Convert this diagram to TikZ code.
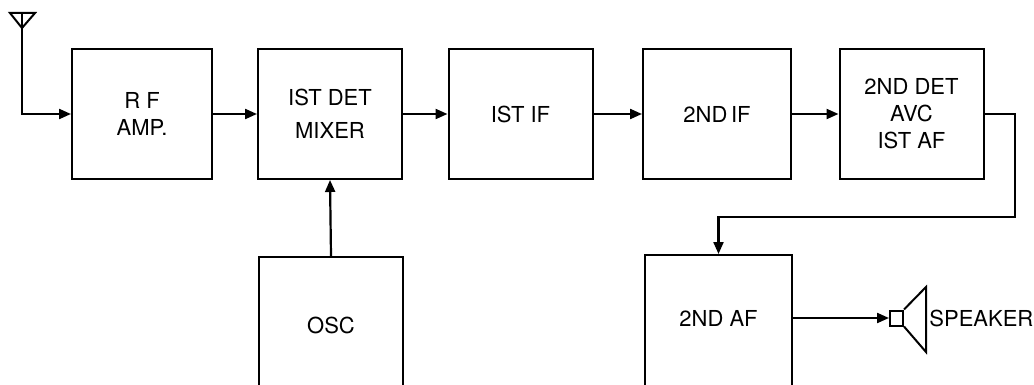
\documentclass[tikz,border=0pt]{standalone}
\usepackage{fontspec}
\setmainfont{TeX Gyre Heros}
\usetikzlibrary{arrows.meta}
\tikzset{
  lbl/.style={font=\fontsize{11}{13.5}\selectfont},
  blk/.style={draw, line width=1pt, minimum width=72pt, minimum height=65pt, inner sep=0pt, align=center, lbl},
  sig/.style={line width=1.1pt, -{Triangle[length=6pt,width=5pt]}}
}
\begin{document}
\begin{tikzpicture}[x=0.5pt, y=-0.5pt]

\clip (0,0) rectangle (1034,385);

\node at (142,114) [blk, minimum width=70pt] (rf) {R F\\AMP.};
\node at (330,114) [blk] (mix) {IST DET\\[3pt]MIXER};
\node at (520.5,114) [blk] (if1) {IST IF};
\node at (717,114) [blk, minimum width=74pt] (if2) {2ND\,IF};
\node at (911.5,114) [blk] (det) {2ND DET\\AVC\\IST AF};
\node at (331,325) [blk, minimum height=68pt] (osc) {OSC};
\node at (718.5,325) [blk, minimum width=73.5pt, minimum height=70pt, label={[yshift=3.5pt, lbl]center:2ND AF}] (af2) {};

\coordinate (ant) at (22,13);
\coordinate (turn) at (1015,217);

\draw [line width=1pt] (10,13) -- (35,13) -- (22,28) -- cycle;
\draw [sig] (ant) |- (rf.west);
\draw [sig] (rf.east) -- (mix.west);
\draw [sig] (mix.east) -- (if1.west);
\draw [sig] (if1.east) -- (if2.west);
\draw [sig] (if2.east) -- (det.west);
\draw [sig] (osc.north) -- (mix.south);
\draw [sig] (det.east) -| (turn) -| (af2.north);

\node at (896.5,318) [draw, line width=1pt, minimum width=6.5pt, minimum height=7.5pt, inner sep=0pt] (spk) {};
\draw [line width=1pt] (spk.north east) -- (926,287) -- (926,352) -- (spk.south east);
\draw [sig] (af2.east |- spk) -- (spk.west);
\node at (929,318) [anchor=west, inner sep=0pt, lbl] (spktxt) {SPEAKER};

\end{tikzpicture}
\end{document}
